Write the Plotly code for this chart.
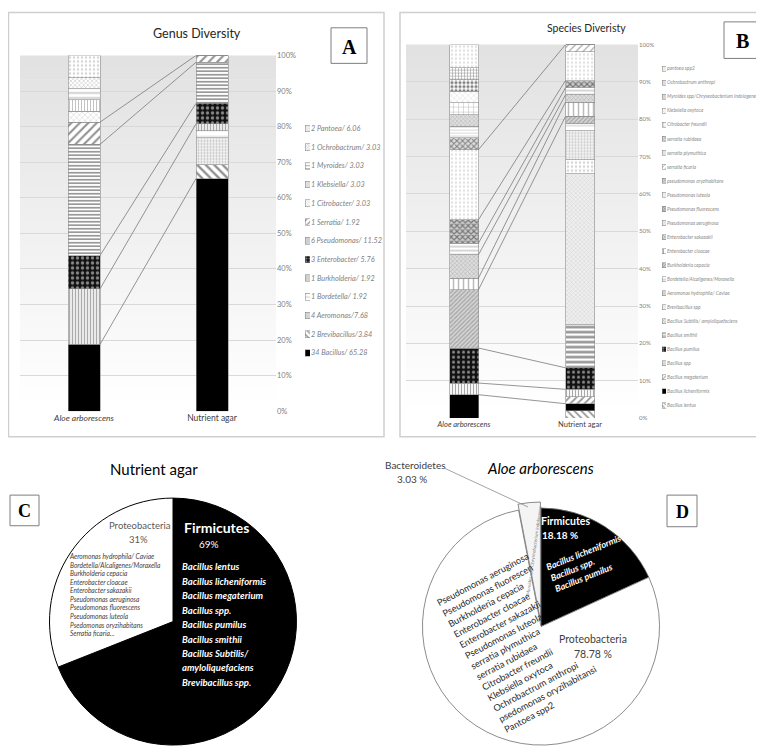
import plotly.graph_objects as go
import numpy as np

W, H = 764, 748
def X(px): return px / W
def Y(py): return 1 - py / H

# ---------------- DATA ----------------
samples = ["Aloe arborescens", "Nutrient agar"]

genera = ["Bacillus", "Brevibacillus", "Aeromonas", "Bordetella", "Burkholderia",
          "Enterobacter", "Pseudomonas", "Serratia", "Citrobacter", "Klebsiella",
          "Myroides", "Ochrobactrum", "Pantoea"]
genus_aloe = [6, 0, 0, 0, 5, 3, 10, 2, 1, 1, 1, 1, 2]
genus_nutrient = [34, 2, 4, 1, 1, 3, 6, 1, 0, 0, 0, 0, 0]
genus_legend = ["34 Bacillus/ 65.28", "2 Brevibacillus/3.84", "4 Aeromonas/7.68",
                "1 Bordetella/ 1.92", "1 Burkholderia/ 1.92", "3 Enterobacter/ 5.76",
                "6 Pseudomonas/ 11.52", "1 Serratia/ 1.92", "1 Citrobacter/ 3.03",
                "1 Klebsiella/ 3.03", "1 Myroides/ 3.03", "1 Ochrobactrum/ 3.03",
                "2 Pantoea/ 6.06"]
genus_links = [("Bacillus", "Bacillus"), ("Burkholderia", "Burkholderia"),
               ("Enterobacter", "Enterobacter"), ("Pseudomonas", "Pseudomonas"),
               ("Serratia", "Serratia")]

species = ["Bacillus lentus", "Bacillus licheniformis", "Bacillus megaterium", "Bacillus spp",
           "Bacillus pumilus", "Bacillus smithii", "Bacillus Subtilis/ amyloliquefaciens",
           "Brevibacillus spp", "Aeromonas hydrophila/ Caviae", "Bordetella/Alcaligenes/Moraxella",
           "Burkholderia cepacia", "Enterobacter cloacae", "Enterobacter sakazakii",
           "Pseudomonas aeruginosa", "Pseudomonas fluorescens", "Pseudomonas luteola",
           "pseudomonas oryzihabitans", "serratia ficaria", "serratia plymuthica",
           "serratia rubidaea", "Citrobacter freundii", "Klebsiella oxytoca",
           "Myroides spp/Chryseobacterium indologenes", "Ochrobactrum anthropi", "pantoea spp2"]
species_aloe = [0, 2, 0, 1, 3, 0, 0, 0, 0, 0, 5, 1, 2, 1, 2, 6, 1, 0, 1, 1, 1, 1, 1, 1, 2]
species_nutrient = [1, 1, 1, 1, 3, 6, 21, 2, 4, 1, 1, 2, 1, 1, 1, 4, 0, 1, 0, 0, 0, 0, 0, 0, 0]
species_links = [("Bacillus licheniformis", "Bacillus licheniformis"),
                 ("Bacillus spp", "Bacillus spp"), ("Bacillus pumilus", "Bacillus pumilus"),
                 ("Burkholderia cepacia", "Burkholderia cepacia"),
                 ("Enterobacter cloacae", "Enterobacter cloacae"),
                 ("Enterobacter sakazakii", "Enterobacter sakazakii"),
                 ("Pseudomonas aeruginosa", "Pseudomonas aeruginosa"),
                 ("Pseudomonas fluorescens", "Pseudomonas fluorescens"),
                 ("Pseudomonas luteola", "serratia ficaria")]

phyla_c = ["Firmicutes", "Proteobacteria"]
values_c = [69, 31]
phyla_d = ["Firmicutes", "Proteobacteria", "Bacteroidetes"]
values_d = [18.18, 78.78, 3.03]

c_firm_list = ["Bacillus lentus", "Bacillus licheniformis", "Bacillus megaterium", "Bacillus spp.",
               "Bacillus pumilus", "Bacillus smithii", "Bacillus Subtilis/", "amyloliquefaciens",
               "Brevibacillus spp."]
c_proteo_list = ["Aeromonas hydrophila/ Caviae", "Bordetella/Alcaligenes/Moraxella",
                 "Burkholderia cepacia", "Enterobacter cloacae", "Enterobacter sakazakii",
                 "Pseudomonas aeruginosa", "Pseudomonas fluorescens", "Pseudomonas luteola",
                 "Psedomonas oryzihabitans", "Serratia ficaria..."]
d_firm_list = ["Bacillus licheniformis", "Bacillus spp.", "Bacillus pumilus"]
d_proteo_list = ["Pseudomonas aeruginosa", "Pseudomonas fluorescen", "Burkholderia cepacia",
                 "Enterobacter cloacae", "Enterobacter sakazakii", "Pseudomonas luteola",
                 "serratia plymuthica", "serratia rubidaea", "Citrobacter freundii",
                 "Klebsiella oxytoca", "Ochrobactrum anthropi", "psedomonas oryzihabitansi",
                 "Pantoea spp2"]
d_bactero_text = "Myroides spp/Chryseobacterium indologenes"

# ---------------- STYLES ----------------
WH = "#ffffff"
genus_styles = [
    ("", "#000000", "#000000", 4, 0.3),
    ("\\", "#222222", WH, 6, 0.4),
    (".", "#8a8a8a", "#f6f6f6", 3, 0.4),
    ("-", "#a0a0a0", WH, 6, 0.15),
    ("|", "#555555", WH, 3, 0.5),
    (".", WH, "#111111", 5, 0.35),
    ("-", "#333333", WH, 3.5, 0.5),
    ("/", "#222222", WH, 6, 0.35),
    ("x", "#888888", WH, 4, 0.2),
    ("|", "#888888", WH, 3, 0.35),
    ("-", "#888888", WH, 5, 0.3),
    ("x", "#777777", WH, 3, 0.3),
    (".", "#aaaaaa", WH, 4, 0.3),
]
species_styles = [
    ("\\", "#333333", WH, 5, 0.35),
    ("", "#000000", "#000000", 4, 0.3),
    ("/", "#333333", WH, 5, 0.35),
    ("|", "#555555", WH, 3, 0.4),
    (".", WH, "#111111", 5, 0.3),
    ("-", "#222222", WH, 5, 0.5),
    ("x", "#b0b0b0", "#efefef", 3, 0.3),
    (".", "#aaaaaa", WH, 4, 0.3),
    (".", "#999999", "#f4f4f4", 3, 0.4),
    ("-", "#a0a0a0", WH, 6, 0.2),
    ("/", "#777777", "#d6d6d6", 3, 0.45),
    ("|", "#777777", WH, 5, 0.3),
    ("x", "#888888", "#dddddd", 3, 0.35),
    ("-", "#777777", WH, 4, 0.3),
    ("x", "#222222", "#cccccc", 4, 0.5),
    (".", "#bbbbbb", WH, 4, 0.25),
    ("x", "#222222", "#dddddd", 4, 0.45),
    ("/", "#555555", WH, 5, 0.25),
    ("-", "#aaaaaa", WH, 3, 0.3),
    ("x", "#999999", "#dddddd", 3, 0.35),
    ("+", "#777777", WH, 5, 0.2),
    ("x", "#aaaaaa", WH, 4, 0.2),
    (".", "#000000", WH, 4, 0.5),
    ("+", "#333333", WH, 3, 0.35),
    (".", "#bbbbbb", WH, 4, 0.25),
]

BAR_W = 0.25
CAL = "Lato, Liberation Sans, sans-serif"
SERIF = "Liberation Serif, Times New Roman, serif"

fig = go.Figure()


def pct(counts):
    t = float(sum(counts))
    return [100.0 * c / t for c in counts]


def add_stack(names, aloe, nut, styles, xa, ya):
    pa, pn = pct(aloe), pct(nut)
    for i, name in enumerate(names):
        shape, fg, bg, size, sol = styles[i]
        fig.add_trace(go.Bar(
            x=[0, 1], y=[pa[i], pn[i]], width=BAR_W, name=name, xaxis=xa, yaxis=ya,
            marker=dict(color=bg, line=dict(color="#8c8c8c", width=0.6),
                        pattern=dict(shape=shape, fgcolor=fg, bgcolor=bg, size=size, solidity=sol)),
            hoverinfo="skip", showlegend=False))
    return np.cumsum(pa), np.cumsum(pn)


def add_links(names, cum_a, cum_n, pairs, xa, ya):
    for a, n in pairs:
        ia, jn = names.index(a), names.index(n)
        fig.add_trace(go.Scatter(
            x=[BAR_W / 2, 1 - BAR_W / 2], y=[cum_a[ia], cum_n[jn]], mode="lines",
            line=dict(color="#7a7a7a", width=0.8), xaxis=xa, yaxis=ya,
            hoverinfo="skip", showlegend=False))


def add_swatches(styles, n, xa, ya):
    fig.add_trace(go.Bar(
        x=[1] * n, y=list(range(n)), orientation="h", width=0.36, xaxis=xa, yaxis=ya,
        marker=dict(color=[s[2] for s in styles], line=dict(color="#7f7f7f", width=0.5),
                    pattern=dict(shape=[s[0] for s in styles], fgcolor=[s[1] for s in styles],
                                 bgcolor=[s[2] for s in styles],
                                 size=[max(2, s[3] - 2) for s in styles],
                                 solidity=[s[4] for s in styles])),
        hoverinfo="skip", showlegend=False))


cga, cgn = add_stack(genera, genus_aloe, genus_nutrient, genus_styles, "x", "y")
add_links(genera, cga, cgn, genus_links, "x", "y")
csa, csn = add_stack(species, species_aloe, species_nutrient, species_styles, "x2", "y2")
add_links(species, csa, csn, species_links, "x2", "y2")
add_swatches(genus_styles, len(genera), "x3", "y3")
add_swatches(species_styles, len(species), "x4", "y4")

# pies
fig.add_trace(go.Pie(
    labels=phyla_c, values=values_c, sort=False, direction="clockwise", rotation=0,
    marker=dict(colors=["#000000", "#ffffff"], line=dict(color="#000000", width=1)),
    textinfo="none", hoverinfo="skip", showlegend=False,
    domain=dict(x=[X(40), X(290)], y=[Y(742), Y(492)])))
fig.add_trace(go.Pie(
    labels=phyla_d, values=values_d, sort=False, direction="clockwise", rotation=0,
    pull=[0, 0, 0.05],
    marker=dict(colors=["#000000", "#ffffff", "#f4f4f4"], line=dict(color="#6f6f6f", width=0.8)),
    textinfo="none", hoverinfo="skip", showlegend=False,
    domain=dict(x=[X(407), X(659)], y=[0, Y(496)])))

# ---------------- LAYOUT ----------------
shapes = []


def gradient(x0, x1, ytop, ybot, c_top=226, c_bot=255, n=30):
    for k in range(n):
        y0 = ytop + (ybot - ytop) * k / n
        y1 = ytop + (ybot - ytop) * (k + 1) / n + 0.6
        c = int(round(c_top + (c_bot - c_top) * (k + 0.5) / n))
        shapes.append(dict(type="rect", xref="paper", yref="paper", x0=X(x0), x1=X(x1),
                           y0=Y(min(y1, ybot)), y1=Y(y0), fillcolor=f"rgb({c},{c},{c})",
                           line=dict(width=0), layer="below"))


def box(x0, y0, x1, y1, color="#7f7f7f", width=1, layer="above"):
    shapes.append(dict(type="rect", xref="paper", yref="paper", x0=X(x0), x1=X(x1),
                       y0=Y(y1), y1=Y(y0), line=dict(color=color, width=width),
                       fillcolor="rgba(255,255,255,0)", layer=layer))


gradient(12, 268, 44, 404)
gradient(398, 630, 33, 411)
box(0.5, 0.5, 376, 430, color="#cfcfcf", width=1.5, layer="below")
box(392, 0.5, 763, 430, color="#cfcfcf", width=1.5, layer="below")
box(323, 16, 359, 52)
box(716, 10, 753, 47)
box(2, 489, 31, 520)
box(659, 489, 689, 521)
# leader line for Bacteroidetes label
shapes.append(dict(type="line", xref="paper", yref="paper", x0=X(437), y0=Y(462),
                   x1=X(520), y1=Y(501), line=dict(color="#8c8c8c", width=0.8)))

ann = []


def text(px, py, t, size, color="#000000", family=CAL, xanchor="center", yanchor="middle",
         angle=0, align="center"):
    ann.append(dict(x=X(px), y=Y(py), xref="paper", yref="paper", text=t, showarrow=False,
                    font=dict(size=size, color=color, family=family), xanchor=xanchor,
                    yanchor=yanchor, textangle=angle, align=align))


text(189, 22, "Genus Diversity", 12.5, "#262626")
text(578, 16, "Species Diveristy", 10.5, "#262626")
text(341, 35, "<b>A</b>", 20, "#000000", SERIF)
text(734.5, 29.5, "<b>B</b>", 20, "#000000", SERIF)
text(16.5, 505, "<b>C</b>", 18, "#000000", SERIF)
text(674, 506, "<b>D</b>", 18, "#000000", SERIF)

# Panel C
text(146, 463, "Nutrient agar", 15, "#000000")
text(132, 520, phyla_c[1], 9.5, "#595959")
text(130, 534, f"{values_c[1]}%", 9.5, "#595959")
text(208, 522, f"<b>{phyla_c[0]}</b>", 14, "#ffffff")
text(201, 538, f"{values_c[0]}%", 10, "#ffffff")
for i, s in enumerate(c_firm_list):
    text(172, 561.7 + i * 14.6, f"<b><i>{s}</i></b>", 9.5, "#ffffff", xanchor="left")
text(59, 545, "<br>".join(f"<i>{s}</i>" for s in c_proteo_list), 6.6, "#404040",
     xanchor="left", yanchor="top", align="left")

# Panel D
text(532, 462, "<i>Aloe arborescens</i>", 15, "#000000")
text(407, 459, phyla_d[2], 10, "#404040")
text(404, 473, f"{values_d[2]} %", 10, "#404040")
text(526, 545, d_bactero_text, 4.5, "#7f7f7f", angle=-82)
text(557, 515, f"<b>{phyla_d[0]}</b>", 10.5, "#ffffff")
text(552, 529, f"<b>{values_d[0]} %</b>", 10, "#ffffff")
text(580, 558, "<br>".join(f"<b><i>{s}</i></b>" for s in d_firm_list), 9, "#ffffff",
     angle=-22, align="left")
text(585, 635, phyla_d[1], 10.5, "#404040")
text(585, 650, f"{values_d[1]} %", 10.5, "#404040")
text(511, 637, "<br>".join(d_proteo_list), 9.2, "#262626", angle=-28, align="left")

tick_pct = list(range(0, 101, 10))
cat_text = [f"<i>{samples[0]}</i>", samples[1]]

fig.update_layout(
    width=W, height=H, margin=dict(l=0, r=0, t=0, b=0),
    paper_bgcolor="#ffffff", plot_bgcolor="rgba(0,0,0,0)",
    barmode="stack", showlegend=False, shapes=shapes, annotations=ann,
    xaxis=dict(domain=[X(12), X(268)], anchor="y", range=[-0.5, 1.5], tickvals=[0, 1],
               ticktext=cat_text, showgrid=False, zeroline=False, ticks="",
               tickfont=dict(size=8.5, color="#404040", family=CAL)),
    yaxis=dict(domain=[Y(404), Y(44)], anchor="x", side="right", range=[0, 100],
               tickvals=tick_pct, ticktext=[f"{v}%" for v in tick_pct], showgrid=True,
               gridcolor="#d9d9d9", zeroline=False, ticks="",
               tickfont=dict(size=7.5, color="#808080", family=CAL)),
    xaxis2=dict(domain=[X(398), X(630)], anchor="y2", range=[-0.5, 1.5], tickvals=[0, 1],
                ticktext=cat_text, showgrid=False, zeroline=False, ticks="",
                tickfont=dict(size=7.5, color="#404040", family=CAL)),
    yaxis2=dict(domain=[Y(411), Y(33)], anchor="x2", side="right", range=[0, 100],
                tickvals=tick_pct, ticktext=[f"{v}%" for v in tick_pct], showgrid=True,
                gridcolor="#d9d9d9", zeroline=False, ticks="",
                tickfont=dict(size=6, color="#808080", family=CAL)),
    xaxis3=dict(domain=[X(297), X(302)], anchor="y3", range=[0, 1], visible=False),
    yaxis3=dict(domain=[Y(354.5), Y(108.5)], anchor="x3", side="right",
                range=[-0.5, len(genera) - 0.5], tickvals=list(range(len(genera))),
                ticktext=[f"<i>{s}</i>" for s in genus_legend], showgrid=False,
                zeroline=False, ticks="", showline=False,
                tickfont=dict(size=7.3, color="#7f7f7f", family=CAL)),
    xaxis4=dict(domain=[X(654), X(658)], anchor="y4", range=[0, 1], visible=False),
    yaxis4=dict(domain=[Y(405.4), Y(50.2)], anchor="x4", side="right",
                range=[-0.5, len(species) - 0.5], tickvals=list(range(len(species))),
                ticktext=[f"<i>{s}</i>" for s in species], showgrid=False,
                zeroline=False, ticks="", showline=False,
                tickfont=dict(size=4.9, color="#8c8c8c", family=CAL)),
)

fig.write_html("out.html")
